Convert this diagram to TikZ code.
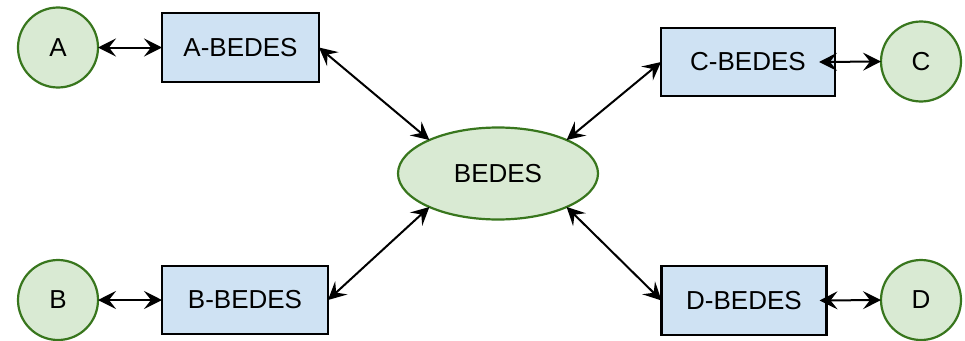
\documentclass[tikz,border=0pt]{standalone}
\usepackage{fontspec}
\setmainfont{Liberation Sans}
\usetikzlibrary{shapes.geometric,arrows.meta}
\definecolor{boxfill}{HTML}{CFE2F3}
\definecolor{gfill}{HTML}{D9EAD3}
\definecolor{gdraw}{HTML}{38761D}
\tikzset{
  bbox/.style={draw=black, line width=2.4pt, fill=boxfill, rectangle, inner sep=0pt, outer sep=0pt, font=\fontsize{26}{30}\selectfont},
  endc/.style={draw=gdraw, line width=2.2pt, fill=gfill, circle, minimum size=80pt, inner sep=0pt, outer sep=0pt, font=\fontsize{26}{30}\selectfont},
  hub/.style={draw=gdraw, line width=2.2pt, fill=gfill, ellipse, minimum width=200pt, minimum height=92pt, inner sep=0pt, outer sep=0pt, font=\fontsize{26}{30}\selectfont},
  link/.style={line width=2pt, arrows={Stealth[length=18pt,width=18pt,inset=7pt]-Stealth[length=18pt,width=18pt,inset=7pt]}}
}
\begin{document}
\begin{tikzpicture}
\useasboundingbox (0pt,0pt) rectangle (965pt,-340pt);
\node[endc] (a) at (58pt,-47.5pt) {A};
\node[endc] (b) at (58pt,-300pt) {B};
\node[endc] (c) at (921pt,-61.5pt) {C};
\node[endc] (d) at (921pt,-300pt) {D};
\node[bbox, minimum width=157pt, minimum height=69pt] (ab) at (240.5pt,-47.5pt) {A-BEDES};
\node[bbox, minimum width=166pt, minimum height=68pt] (bb) at (245pt,-300pt) {B-BEDES};
\node[bbox, minimum width=174pt, minimum height=68pt] (cb) at (748pt,-62pt) {C-BEDES};
\node[bbox, minimum width=165pt, minimum height=69pt] (db) at (744pt,-300.5pt) {D-BEDES};
\node[hub] (hub) at (498pt,-173.5pt) {BEDES};
\draw[link] (a.east) -- (ab.west);
\draw[link] (b.east) -- (bb.west);
\draw[link] ([xshift=-16pt]cb.east) -- (c.west);
\draw[link] ([xshift=-7pt]db.east) -- (d.west);
\draw[link] (ab.east) -- (hub.154);
\draw[link] (bb.east) -- (hub.206);
\draw[link] (cb.west) -- (hub.26);
\draw[link] (db.west) -- (hub.334);
\end{tikzpicture}
\end{document}
